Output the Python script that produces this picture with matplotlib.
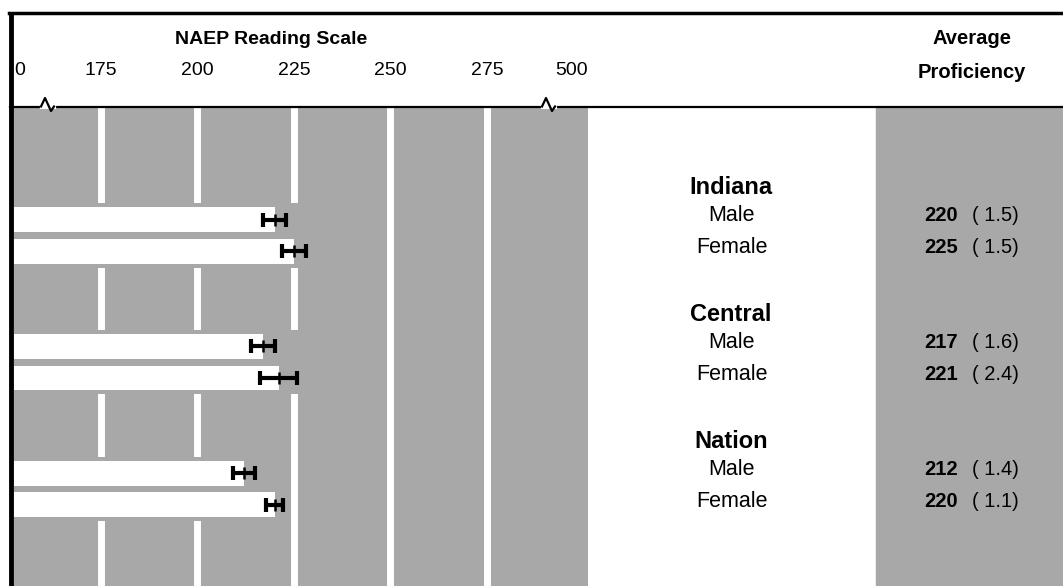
import matplotlib.pyplot as plt
import numpy as np
from matplotlib.lines import Line2D
from matplotlib.patches import Rectangle
from matplotlib.transforms import blended_transform_factory

# data
groups = ['Indiana', 'Central', 'Nation']
sexes = ['Male', 'Female']
proficiency = [[220, 225], [217, 221], [212, 220]]
std_err = [[1.5, 1.5], [1.6, 2.4], [1.4, 1.1]]
tick_values = [175, 200, 225, 250, 275]
break_labels = ['0', '500']

W, H = 1063, 586
GREY = '#a8a8a8'
XMIN, XMAX = 152.46, 301.17     # scale range shown between the two breaks
BREAK_POS = [154.0, 297.0]      # where the "0" and "500" labels sit


def fx(px):
    return px / W


def fy(py):
    return 1 - py / H


plt.rcParams['font.family'] = ['Liberation Sans', 'DejaVu Sans']
fig = plt.figure(figsize=(W / 100, H / 100), dpi=100)

ax = fig.add_axes([fx(14), 0, fx(588) - fx(14), 1 - 107 / H])
ax.set_facecolor(GREY)
ax.set_xlim(XMIN, XMAX)
ax.set_ylim(12.56, -2.55)
for s in ax.spines.values():
    s.set_visible(False)
ax.set_yticks([])

# white gridlines on the scale
for t in tick_values:
    ax.axvline(t, color='white', lw=5, zorder=1)

bar_h = 0.78
for g, name in enumerate(groups):
    rows = np.array([4 * g + 1, 4 * g + 2])
    vals = np.array(proficiency[g])
    se = np.array(std_err[g])
    end = (vals + 2 * se).max() + 1.5
    # grey band that hides the gridlines behind the group
    ax.barh(rows.mean(), end - XMIN, left=XMIN, height=bar_h + 1.25,
            color=GREY, zorder=2)
    ax.barh(rows, vals - XMIN, left=XMIN, height=bar_h, color='white', zorder=3)
    ax.errorbar(vals, rows, xerr=2 * se, fmt='none', ecolor='black',
                elinewidth=3, capsize=5, capthick=3, zorder=4)
    ax.plot(vals, rows, ls='none', marker='|', ms=8, mew=1.8, color='black', zorder=5)

# tick labels on top
ax.xaxis.tick_top()
ax.set_xticks([BREAK_POS[0]] + tick_values + [BREAK_POS[1]],
              [break_labels[0]] + [str(t) for t in tick_values] + [break_labels[1]])
ax.tick_params(axis='x', length=0, pad=20, labelsize=14)

# right hand grey column
fig.add_artist(Rectangle((fx(876), 0), fx(W) - fx(876), 1 - 107 / H,
                         transform=fig.transFigure, color=GREY, zorder=0))

trans = blended_transform_factory(fig.transFigure, ax.transData)
for g, name in enumerate(groups):
    fig.text(fx(731), 4 * g, name, transform=trans, ha='center', va='center',
             fontsize=17, fontweight='bold')
    for i, sx in enumerate(sexes):
        r = 4 * g + 1 + i - 0.12
        fig.text(fx(732), r, sx, transform=trans, ha='center', va='center', fontsize=15.5)
        fig.text(fx(941), r, str(proficiency[g][i]), transform=trans, ha='center',
                 va='center', fontsize=14.5, fontweight='bold')
        fig.text(fx(995), r, f'( {std_err[g][i]:.1f})', transform=trans, ha='center',
                 va='center', fontsize=14.5)

# header
fig.text(fx(271), fy(40), 'NAEP Reading Scale', ha='center', va='center',
         fontsize=14, fontweight='bold')
fig.text(fx(972), fy(38), 'Average', ha='center', va='center', fontsize=14.5, fontweight='bold')
fig.text(fx(972), fy(73), 'Proficiency', ha='center', va='center', fontsize=14.5,
         fontweight='bold')

# frame
fig.add_artist(Line2D([fx(9), 1], [fy(13), fy(13)], lw=2.5, color='black'))
fig.add_artist(Line2D([fx(11), fx(11)], [fy(14), 0], lw=3.5, color='black'))
fig.add_artist(Line2D([fx(10), 1], [fy(106.5), fy(106.5)], lw=1.6, color='black'))

# axis break marks
for xc in [45, 546]:
    fig.add_artist(Line2D([fx(xc - 3), fx(xc + 9)], [fy(106.5)] * 2, lw=3, color='white'))
    fig.add_artist(Line2D([fx(xc - 4), fx(xc), fx(xc + 6), fx(xc + 9)],
                          [fy(106.5), fy(98), fy(111), fy(106.5)], lw=1.6, color='black'))

fig.savefig('out.png', dpi=100)
